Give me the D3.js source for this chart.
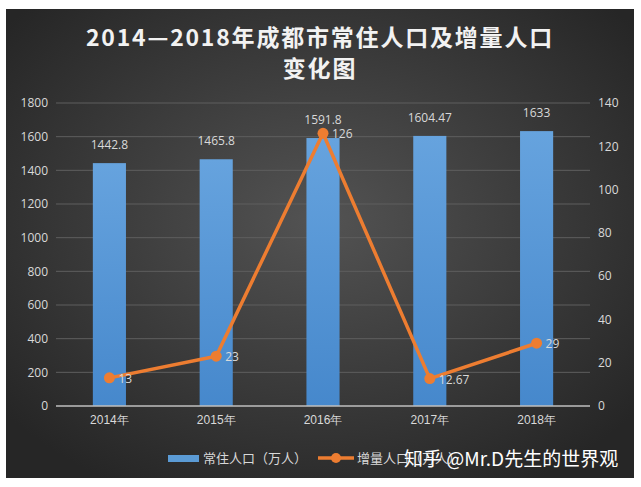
<!DOCTYPE html>
<html>
<head>
<meta charset="utf-8">
<script src="https://cdn.jsdelivr.net/npm/d3@7"></script>
<style>
  body { margin: 0; background: #fff; }
  svg { display: block; font-family: "Noto Sans CJK SC", "Open Sans", sans-serif; }
</style>
</head>
<body>
<svg id="canvas" width="641" height="487"></svg>
<script>
// chart values
const years = ['2014年', '2015年', '2016年', '2017年', '2018年']
const population = [1442.8, 1465.8, 1591.8, 1604.47, 1633]
const increase = [13, 23, 126, 12.67, 29]
const popLabels = ['1442.8', '1465.8', '1591.8', '1604.47', '1633']
const incLabels = ['13', '23', '126', '12.67', '29']
const leftTicks = [0, 200, 400, 600, 800, 1000, 1200, 1400, 1600, 1800]
const rightTicks = [0, 20, 40, 60, 80, 100, 120, 140]

const svg = d3.select('#canvas')
const defs = svg.append('defs')

// dark radial background
const bg = defs.append('radialGradient').attr('id', 'bg')
  .attr('cx', '50%').attr('cy', '45%').attr('r', '65%')
bg.append('stop').attr('offset', '0%').attr('stop-color', '#535353')
bg.append('stop').attr('offset', '100%').attr('stop-color', '#262626')

const barGrad = defs.append('linearGradient').attr('id', 'barGrad')
  .attr('x1', 0).attr('y1', 0).attr('x2', 0).attr('y2', 1)
barGrad.append('stop').attr('offset', '0%').attr('stop-color', '#66a3de')
barGrad.append('stop').attr('offset', '100%').attr('stop-color', '#4688cc')

svg.append('rect')
  .attr('x', 6).attr('y', 9).attr('width', 628).attr('height', 469)
  .attr('fill', 'url(#bg)')

// title, two lines
const titleLines = ['2014—2018年成都市常住人口及增量人口', '变化图']
svg.append('g')
  .selectAll('text')
  .data(titleLines)
  .join('text')
  .attr('x', 320)
  .attr('y', (d, i) => 46 + i * 31)
  .attr('text-anchor', 'middle')
  .attr('fill', '#f2f2f2')
  .attr('font-size', 23)
  .attr('font-weight', 'bold')
  .attr('letter-spacing', 1.8)
  .text(d => d)

const x = d3.scaleBand().domain(years).range([56, 590]).paddingInner(0.69).paddingOuter(0.345)
const yL = d3.scaleLinear().domain([0, 1800]).range([406, 103])
const yR = d3.scaleLinear().domain([0, 140]).range([406, 103])

// gridlines
svg.append('g')
  .selectAll('line')
  .data(leftTicks.slice(1))
  .join('line')
  .attr('x1', 56).attr('x2', 590)
  .attr('y1', d => yL(d)).attr('y2', d => yL(d))
  .attr('stroke', '#5e5e5e').attr('stroke-width', 1)

// left axis
const axL = svg.append('g')
  .attr('transform', 'translate(48,0)')
  .call(d3.axisLeft(yL).tickValues(leftTicks).tickFormat(d3.format('d')).tickSize(0).tickPadding(0))
axL.select('.domain').remove()
axL.selectAll('text').attr('fill', '#d9d9d9').attr('font-size', 12)
  .attr('font-family', '"Open Sans", sans-serif')

// right axis
const axR = svg.append('g')
  .attr('transform', 'translate(598,0)')
  .call(d3.axisRight(yR).tickValues(rightTicks).tickFormat(d3.format('d')).tickSize(0).tickPadding(0))
axR.select('.domain').remove()
axR.selectAll('text').attr('fill', '#d9d9d9').attr('font-size', 12)
  .attr('font-family', '"Open Sans", sans-serif')

// bars
svg.append('g')
  .selectAll('rect')
  .data(population)
  .join('rect')
  .attr('x', (d, i) => x(years[i]))
  .attr('width', x.bandwidth())
  .attr('y', d => yL(d))
  .attr('height', d => yL(0) - yL(d))
  .attr('fill', 'url(#barGrad)')

// baseline
svg.append('line')
  .attr('x1', 56).attr('x2', 590)
  .attr('y1', yL(0)).attr('y2', yL(0))
  .attr('stroke', '#bfbfbf').attr('stroke-width', 1.5)

// x axis labels
const axB = svg.append('g')
  .attr('transform', `translate(0,${yL(0)})`)
  .call(d3.axisBottom(x).tickSize(0).tickPadding(9))
axB.select('.domain').remove()
axB.selectAll('text').attr('fill', '#d9d9d9').attr('font-size', 12)

// bar value labels
svg.append('g')
  .selectAll('text')
  .data(population)
  .join('text')
  .attr('x', (d, i) => x(years[i]) + x.bandwidth() / 2)
  .attr('y', d => yL(d) - 14)
  .attr('text-anchor', 'middle')
  .attr('fill', '#d9d9d9')
  .attr('font-size', 12)
  .attr('font-family', '"Open Sans", sans-serif')
  .text((d, i) => popLabels[i])

// line series
const cx = (d, i) => x(years[i]) + x.bandwidth() / 2
const line = d3.line().x(cx).y(d => yR(d))
svg.append('path')
  .datum(increase)
  .attr('d', line)
  .attr('fill', 'none')
  .attr('stroke', '#ed7d31')
  .attr('stroke-width', 3.5)
  .attr('stroke-linejoin', 'round')

svg.append('g')
  .selectAll('circle')
  .data(increase)
  .join('circle')
  .attr('cx', cx)
  .attr('cy', d => yR(d))
  .attr('r', 5.5)
  .attr('fill', '#ed7d31')

svg.append('g')
  .selectAll('text')
  .data(increase)
  .join('text')
  .attr('x', (d, i) => cx(d, i) + 9)
  .attr('y', d => yR(d) + 5)
  .attr('fill', '#d9d9d9')
  .attr('font-size', 12)
  .attr('font-family', '"Open Sans", sans-serif')
  .text((d, i) => incLabels[i])

// legend
const leg = svg.append('g').attr('transform', 'translate(0,458)')
leg.append('rect').attr('x', 168).attr('y', -3).attr('width', 31).attr('height', 7).attr('fill', '#5b9bd5')
leg.append('text').attr('x', 203).attr('y', 5).attr('fill', '#d9d9d9').attr('font-size', 13).text('常住人口（万人）')
leg.append('line').attr('x1', 318).attr('x2', 354).attr('y1', 0).attr('y2', 0)
  .attr('stroke', '#ed7d31').attr('stroke-width', 3.5)
leg.append('circle').attr('cx', 336).attr('cy', 0).attr('r', 5).attr('fill', '#ed7d31')
leg.append('text').attr('x', 357).attr('y', 5).attr('fill', '#d9d9d9').attr('font-size', 13).text('增量人口（万人）')

// watermark (sits over the legend as in the source image)
svg.append('text')
  .attr('x', 404).attr('y', 466)
  .attr('fill', '#ffffff')
  .attr('font-size', 19)
  .text('知乎 @Mr.D先生的世界观')
</script>
</body>
</html>
